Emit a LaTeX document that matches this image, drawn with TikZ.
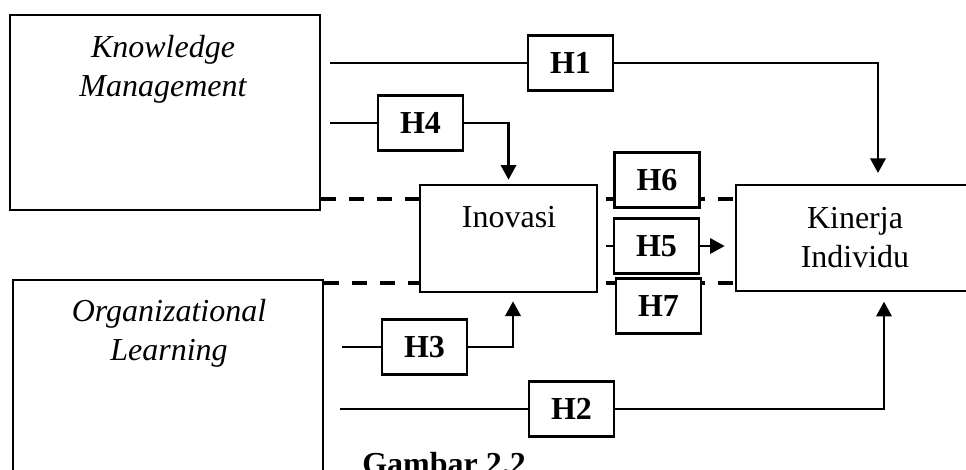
\documentclass[tikz,border=0pt]{standalone}
\usepackage{fontspec}
\setmainfont{Liberation Serif}
\usetikzlibrary{arrows.meta,fit}

\begin{document}
\begin{tikzpicture}[x=0.75pt,y=-0.75pt,
    varbox/.style={draw, line width=2pt, inner sep=0pt},
    vartext/.style={align=center, inner sep=0pt, font=\fontsize{24}{29.25}\selectfont},
    varitext/.style={align=center, inner sep=0pt, font=\fontsize{24}{29.25}\selectfont\itshape},
    hbox/.style={draw, fill=white, line width=2pt, minimum width=63.75pt, minimum height=41.25pt,
      inner sep=0pt, font=\fontsize{24}{29}\selectfont\bfseries},
    link/.style={line width=1.9pt},
    effect/.style={line width=1.9pt, -{Triangle[length=11pt,width=11.5pt]}},
    dashlink/.style={line width=2.5pt, dash pattern=on 11.25pt off 9.75pt}]

  \useasboundingbox (0,0) rectangle (966,469);
  \clip (0,0) rectangle (966,469);

  % variables
  \node[varbox, fit={(10,15) (320,210)}] (km) {};
  \node[varbox, fit={(13,280) (323,520)}] (ol) {};
  \node[varbox, fit={(420,185) (597,292)}] (ino) {};
  \node[varbox, fit={(736,185) (990,291)}] (kin) {};

  % base of a two-line node = base of its last line
  \node[varitext, anchor=base] (kmtext) at (163,96) {Knowledge\\Management};
  \node[varitext, anchor=base] (oltext) at (169,360) {Organizational\\Learning};
  \node[vartext, anchor=base] (inotext) at (509,227) {Inovasi};
  \node[vartext, anchor=base] (kintext) at (855,267) {Kinerja\\Individu};

  \node[anchor=base west, inner sep=0pt, font=\fontsize{24}{29}\selectfont\bfseries] (caption)
    at (362,474) {Gambar 2.2};

  \coordinate (dtop) at (0,199);
  \coordinate (dbot) at (0,283);
  \coordinate (h1in) at (330,63);
  \coordinate (h4in) at (330,123);
  \coordinate (h3in) at (342,347);
  \coordinate (h2in) at (340,409);
  \coordinate (kt) at (878,0);
  \coordinate (kb) at (884,0);
  \coordinate (it) at (513,0);

  % moderation lines
  \draw[dashlink] (km.east |- dtop) -- (ino.west |- dtop);
  \draw[dashlink, shorten <=6pt] (ino.east |- dtop) -- (kin.west |- dtop);
  \draw[dashlink] (ol.east |- dbot) -- (ino.west |- dbot);
  \draw[dashlink, shorten <=6pt] (ino.east |- dbot) -- (kin.west |- dbot);

  % hypotheses
  \node[hbox] (h1) at (570.5,63) {H1};
  \node[hbox] (h4) at (420.5,123) {H4};
  \node[hbox] (h6) at (657,180) {H6};
  \node[hbox] (h5) at (656.5,246) {H5};
  \node[hbox] (h7) at (658.5,306) {H7};
  \node[hbox] (h3) at (424.5,347) {H3};
  \node[hbox] (h2) at (571.5,409) {H2};

  \draw[link] (h1in) -- (h1);
  \draw[effect, shorten >=8pt] (h1) -| (kin.north -| kt);
  \draw[link] (h4in) -- (h4);
  \draw[effect, shorten >=3pt] (h4) -| (ino.north);
  \draw[link] (h3in) -- (h3);
  \draw[effect, shorten >=6pt] (h3) -| (ino.south -| it);
  \draw[link] (h2in) -- (h2);
  \draw[effect, shorten >=7pt] (h2) -| (kin.south -| kb);
  \draw[link, shorten <=6pt] (ino.east |- h5) -- (h5);
  \draw[effect, shorten >=7.5pt] (h5) -- (kin.west |- h5);
\end{tikzpicture}
\end{document}
